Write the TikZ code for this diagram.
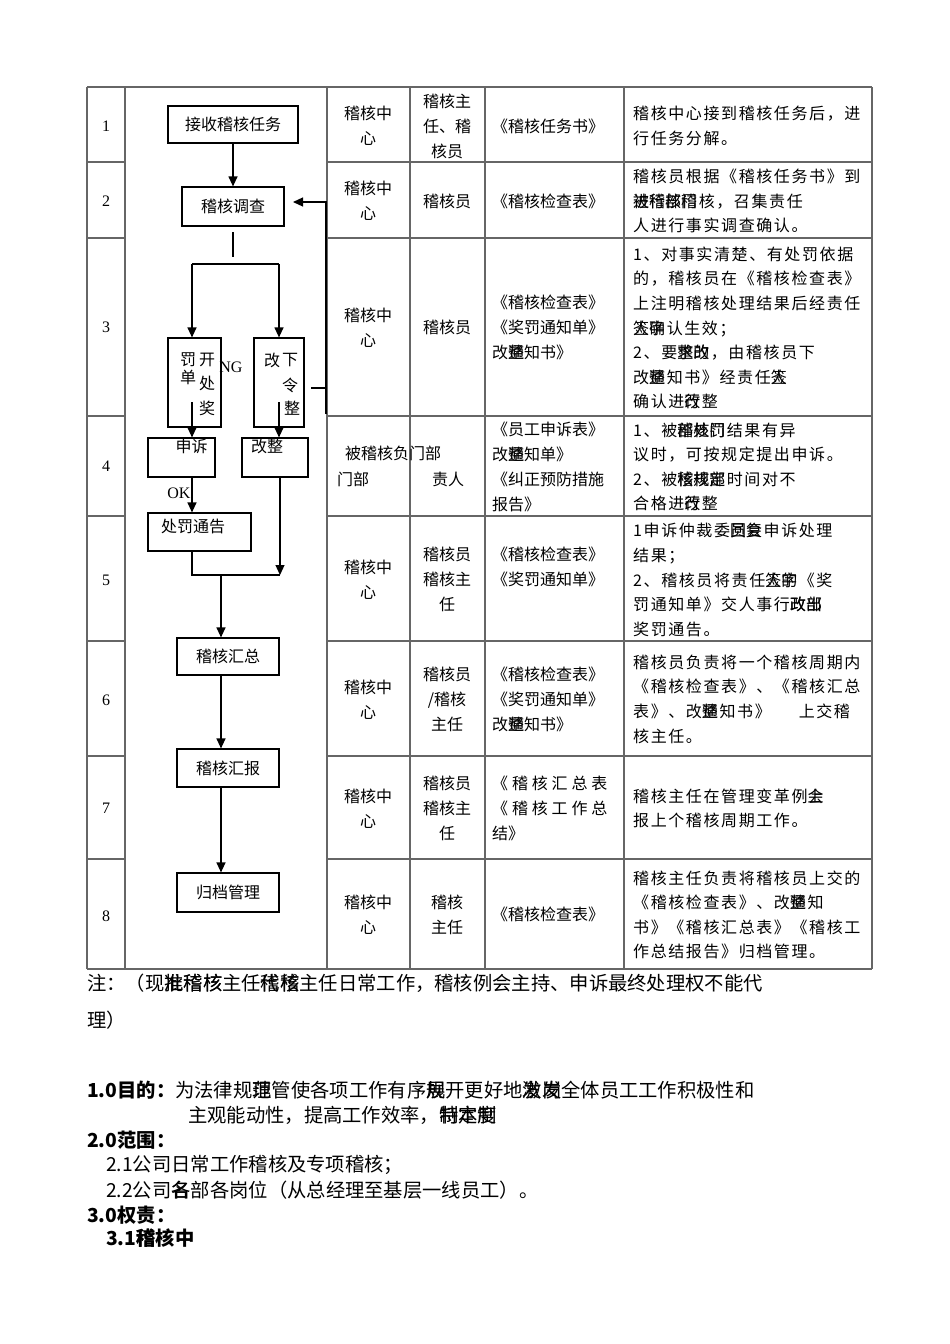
\documentclass[tikz,border=0pt]{standalone}
\usepackage{fontspec}
\setmainfont{Noto Sans CJK SC}
\newfontfamily\latinfont{Liberation Serif}
\newfontfamily\descfont{Noto Sans CJK SC}[LetterSpace=10]
\usetikzlibrary{arrows.meta, calc}

% two glyphs printed on top of each other
\newcommand\ov[2]{\makebox[0pt][l]{#1}#2}
\newcommand\spread[1]{{\addfontfeature{LetterSpace=24}#1}}

\begin{document}
\begin{tikzpicture}[x=1pt, y=-1pt,
  every node/.style={font=\fontsize{16}{25}\selectfont, inner sep=0pt},
  >={Triangle[length=10pt, width=9pt]},
  grid/.style={draw=black!60, line width=1.1pt},
  flow/.style={draw=black, line width=1.2pt},
  arrow/.style={flow, ->},
  stepbox/.style={draw=black, line width=1.2pt},
  num/.style={font=\latinfont\fontsize{16}{20}\selectfont},
  who/.style={align=center},
  doc/.style={align=left, anchor=west},
  desc/.style={align=left, anchor=west, font=\descfont\fontsize{16}{24.6}\selectfont},
  foot/.style={anchor=west, font=\fontsize{19.3}{25}\selectfont}
]
\useasboundingbox (0,0) rectangle (950,1344);

% table frame
\foreach \x in {87,125,327,410,485,624,872}
  \draw[grid] (\x,87) -- (\x,969);
\draw[grid] (87,87) -- (872,87);
\draw[grid] (87,969) -- (872,969);
\foreach \y in {162,238,416,516,641,756,859} {
  \draw[grid] (87,\y) -- (125,\y);
  \draw[grid] (327,\y) -- (872,\y);
}

% step numbers
\foreach \n/\y in {1/126, 2/201, 3/327, 4/466, 5/580, 6/700, 7/808, 8/916}
  \node[num] (no\n) at (106,\y) {\n};

% flow chart
\node[stepbox, minimum width=130, minimum height=37] (task) at (233,124.5) {接收稽核任务};
\node[stepbox, minimum width=102, minimum height=39] (survey) at (233,206.5) {稽核调查};

\node[stepbox, minimum width=53, minimum height=89] (penalty) at (194.5,382.5) {};
\node (pen1) at (188,360) {罚};
\node (pen2) at (207,360) {开};
\node (pen3) at (188,377) {单};
\node (pen4) at (207,383) {处};
\node (pen5) at (207,408) {奖};
\node[num] (ng) at (231,367) {NG};

\node[stepbox, minimum width=50, minimum height=89] (order) at (279,382.5) {};
\node (ord1) at (272,360) {改};
\node (ord2) at (290,360) {下};
\node (ord3) at (290,385) {令};
\node (ord4) at (292,408) {整};

\node[stepbox, minimum width=67, minimum height=39,
  label={[anchor=north, xshift=10pt, yshift=-1pt]north:申诉}] (appeal) at (181.5,457.5) {};
\node[stepbox, minimum width=66, minimum height=39,
  label={[anchor=north, xshift=-8pt, yshift=-1pt]north:改整}] (fix) at (275,457.5) {};
\node[num] (ok) at (179,493) {OK};
\node[stepbox, minimum width=103, minimum height=38,
  label={[anchor=north, xshift=-6.5pt, yshift=-6pt]north:处罚通告}] (notice) at (199.5,532) {};

\node[stepbox, minimum width=102, minimum height=37] (summary) at (228,656.5) {稽核汇总};
\node[stepbox, minimum width=102, minimum height=38] (report) at (228,768) {稽核汇报};
\node[stepbox, minimum width=102, minimum height=39] (archive) at (228,892.5) {归档管理};

\coordinate (stubtop) at (233,232);
\coordinate (stubend) at (233,257);
\coordinate (splitL) at (192,264);
\coordinate (splitR) at (279,264);
\coordinate (pin) at (192,402);
\coordinate (oin) at (279,402);
\coordinate (join) at (280,575);
\coordinate (merge) at (221,575);
\coordinate (fbA) at (311,388);
\coordinate (fbB) at (326,388);
\coordinate (fbC) at (326,414);
\coordinate (fbD) at (326,202);
\coordinate (fbtip) at (293,202);

\draw[arrow] (task) -- (survey);
\draw[flow] (stubtop) -- (stubend);
\draw[flow] (splitL) -- (splitR);
\draw[arrow] (splitL) -- (splitL |- penalty.north);
\draw[arrow] (splitR) -- (splitR |- order.north);
\draw[arrow] (pin) -- (pin |- appeal.north);
\draw[arrow] (oin) -- (oin |- fix.north);
\draw[arrow] (pin |- appeal.south) -- (pin |- notice.north);
\draw[flow] (pin |- notice.south) -- (pin |- join) -- (join);
\draw[arrow] (join |- fix.south) -- (join);
\draw[arrow] (merge) -- (merge |- summary.north);
\draw[arrow] (merge |- summary.south) -- (merge |- report.north);
\draw[arrow] (merge |- report.south) -- (merge |- archive.north);
\draw[flow] (fbA) -- (fbB);
\draw[arrow] (fbC) -- (fbD) -- (fbtip);

% department
\node[who] (dep1) at (368,126) {稽核中\\心};
\node[who] (dep2) at (368,200.5) {稽核中\\心};
\node[who] (dep3) at (368,327.5) {稽核中\\心};
\node[anchor=west] (dep4a) at (345,453) {被稽核负门部};
\node[anchor=west] (dep4b) at (337,479) {门部};
\node[who] (dep5) at (368,579.5) {稽核中\\心};
\node[who] (dep6) at (368,699.5) {稽核中\\心};
\node[who] (dep7) at (368,808.5) {稽核中\\心};
\node[who] (dep8) at (368,914.5) {稽核中\\心};

% person in charge
\node[who] (own1) at (447,126) {稽核主\\任、稽\\核员};
\node[who] (own2) at (447,201) {稽核员};
\node[who] (own3) at (447,327) {稽核员};
\node[who] (own4) at (448,479) {责人};
\node[who] (own5) at (447,579) {稽核员\\稽核主\\任};
\node[who] (own6) at (447,699.5) {稽核员\\/稽核\\主任};
\node[who] (own7) at (447,808) {稽核员\\稽核主\\任};
\node[who] (own8) at (447,914.5) {稽核\\主任};

% forms
\node[doc] (form1) at (492,126) {《稽核任务书》};
\node[doc] (form2) at (492,201) {《稽核检查表》};
\node[doc] (form3) at (492,327.5) {《稽核检查表》\\《奖罚通知单》\\改\ov{整}{通}知书》};
\node[doc] (form4) at (492,467) {《员工申诉表》\\改\ov{整}{通}知单》\\《纠正预防措施\\报告》};
\node[doc] (form5) at (492,566.5) {《稽核检查表》\\《奖罚通知单》};
\node[doc] (form6) at (492,699.5) {《稽核检查表》\\《奖罚通知单》\\改\ov{整}{通}知书》};
\node[doc] (form7) at (492,808) {\spread{《稽核汇总表}\\\spread{《稽核工作总}\\结》};
\node[doc] (form8) at (492,914.5) {《稽核检查表》};

% description
\node[desc] (text1) at (633,126) {稽核中心接到稽核任务后，进\\行任务分解。};
\node[desc] (text2) at (633,201) {稽核员根据《稽核任务书》到\\\ov{被}{进}\ov{稽}{行}\ov{核}{部}\ov{门}{稽}核，召集责任\\人进行事实调查确认。};
\node[desc] (text3) at (633,328) {1、对事实清楚、有处罚依据\\的，稽核员在《稽核检查表》\\上注明稽核处理结果后经责任\\\ov{人}{签}\ov{字}{确}认生效；\\2、要\ov{求}{整}\ov{改}{的}，由稽核员下\\改\ov{整}{通}知书》经责任\ov{人}{签}\\确认进\ov{行}{改}整};
\node[desc] (text4) at (633,467) {1、被\ov{稽}{部}\ov{核}{处}\ov{门}{罚}结果有异\\议时，可按规定提出申诉。\\2、被\ov{稽}{核}\ov{核}{规}\ov{部}{定}时间对不\\合格进\ov{行}{改}整};
\node[desc] (text5) at (633,580) {1申诉仲裁委\ov{员}{回}\ov{会}{复}申诉处理\\结果；\\2、稽核员将责任\ov{人}{签}\ov{字}{的}《奖\\罚通知单》交人事行\ov{政}{改}\ov{部}{出}\\奖罚通告。};
\node[desc] (text6) at (633,699) {稽核员负责将一个稽核周期内\\《稽核检查表》、《稽核汇总\\表》、改\ov{整}{通}知书》\hspace{28pt}上交稽\\核主任。};
\node[desc] (text7) at (633,808.5) {稽核主任在管理变革例\ov{会}{上}\\报上个稽核周期工作。};
\node[desc] (text8) at (633,915) {稽核主任负责将稽核员上交的\\《稽核检查表》、改\ov{整}{通}知\\书》《稽核汇总表》《稽核工\\作总结报告》归档管理。};

% text below the table
\node[foot] (note1) at (87,983) {注：（现\ov{批}{准}\ov{稽}{稽}\ov{核}{核}主任\ov{代}{稽}\ov{稽}{核}主任日常工作，稽核例会主持、申诉最终处理权不能代};
\node[foot] (note2) at (87,1020) {理）};
\node[foot] (aim1) at (87,1090) {\textbf{1.0目的：}为法律规\ov{范}{理}管使各项工作有序\ov{展}{规}开更好地\ov{激}{发}\ov{发}{岗}全体员工工作积极性和};
\node[foot] (aim2) at (188,1115) {主观能动性，提高工作效率，\ov{特}{制}\ov{定}{本}\ov{制}{度}};
\node[foot] (range0) at (87,1140) {\textbf{2.0范围：}};
\node[foot] (range1) at (106,1165) {2.1公司日常工作稽核及专项稽核；};
\node[foot] (range2) at (106,1190) {2.2公司\ov{名}{各}部各岗位（从总经理至基层一线员工）。};
\node[foot] (duty0) at (87,1215) {\textbf{3.0权责：}};
\node[foot] (duty1) at (106,1238) {\textbf{3.1\ov{稽}{稽}核中}};

\end{tikzpicture}
\end{document}
